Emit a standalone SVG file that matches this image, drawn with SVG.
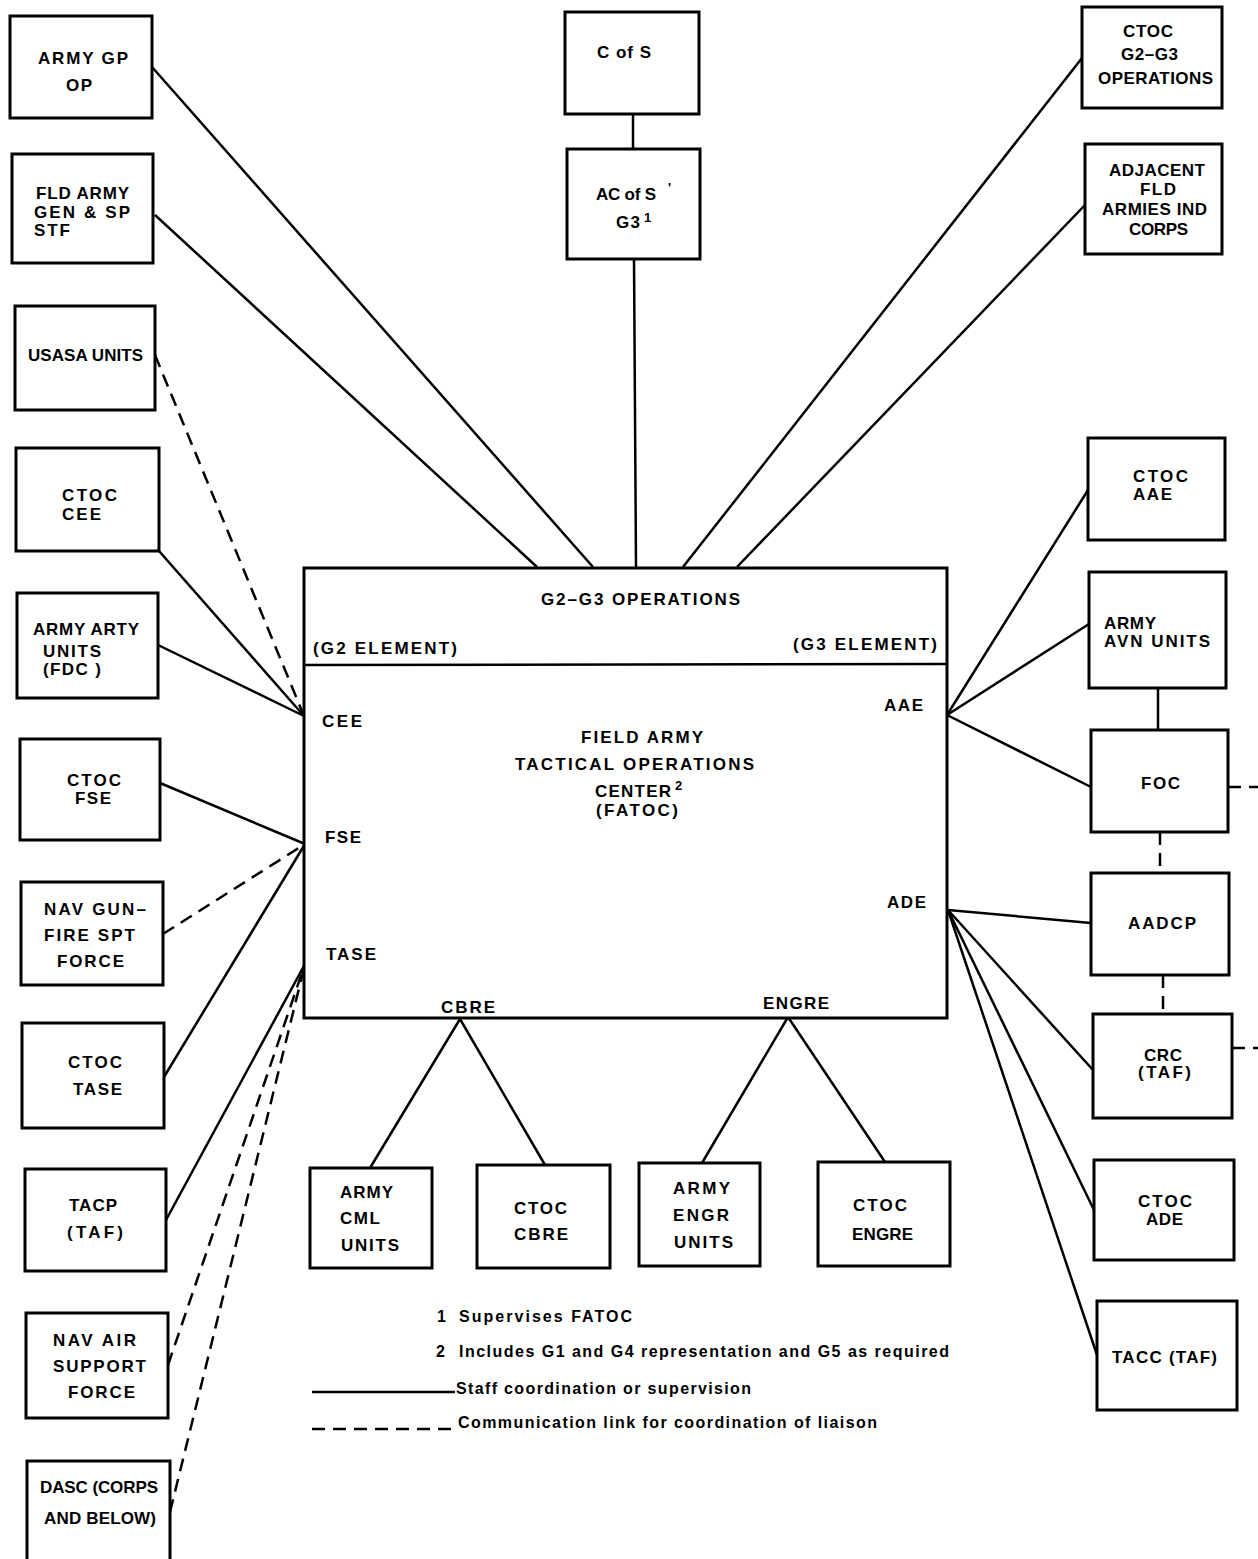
<svg xmlns="http://www.w3.org/2000/svg" width="1258" height="1559" viewBox="0 0 1258 1559">
<style>
.b{fill:#fff;stroke:#000;stroke-width:3}
.s{stroke:#000;stroke-width:2.5;fill:none}
.d{stroke:#000;stroke-width:2.5;fill:none;stroke-dasharray:13 8}
text{font-family:"Liberation Sans",Arial,sans-serif;font-weight:bold;font-size:17px;fill:#000}
.l{font-size:16px}
.sup{font-size:13px}
</style>
<rect width="1258" height="1559" fill="#fff"/>
<g id="connectors">
<line class="s" x1="152" y1="67" x2="593" y2="567"/>
<line class="s" x1="155" y1="215" x2="537" y2="567"/>
<line class="s" x1="633" y1="114" x2="633" y2="149"/>
<line class="s" x1="634" y1="259" x2="636" y2="567"/>
<line class="s" x1="1082" y1="58" x2="683" y2="567"/>
<line class="s" x1="1085" y1="205" x2="737" y2="567"/>
<line class="d" x1="155" y1="355" x2="304" y2="716"/>
<line class="s" x1="159" y1="551" x2="304" y2="716"/>
<line class="s" x1="158" y1="645" x2="304" y2="716"/>
<line class="s" x1="160" y1="783" x2="305" y2="844"/>
<line class="d" x1="163" y1="934" x2="305" y2="844"/>
<line class="s" x1="164" y1="1077" x2="305" y2="844"/>
<line class="s" x1="166" y1="1220" x2="305" y2="964"/>
<line class="d" x1="168" y1="1365" x2="305" y2="964"/>
<line class="d" x1="170" y1="1512" x2="305" y2="964"/>
<line class="s" x1="1088" y1="490" x2="947" y2="715"/>
<line class="s" x1="1089" y1="624" x2="947" y2="715"/>
<line class="s" x1="1091" y1="787" x2="947" y2="715"/>
<line class="s" x1="1158" y1="688" x2="1158" y2="730"/>
<line class="d" x1="1228" y1="787" x2="1258" y2="787"/>
<line class="d" x1="1160" y1="832" x2="1160" y2="873"/>
<line class="d" x1="1163" y1="975" x2="1163" y2="1014"/>
<line class="d" x1="1232" y1="1048" x2="1258" y2="1048" stroke-dasharray="20 4"/>
<line class="s" x1="1091" y1="923" x2="948" y2="910"/>
<line class="s" x1="1093" y1="1070" x2="948" y2="910"/>
<line class="s" x1="1094" y1="1210" x2="948" y2="910"/>
<line class="s" x1="1097" y1="1355" x2="948" y2="910"/>
<line class="s" x1="460" y1="1019" x2="370" y2="1168"/>
<line class="s" x1="460" y1="1019" x2="545" y2="1165"/>
<line class="s" x1="788" y1="1017" x2="702" y2="1163"/>
<line class="s" x1="788" y1="1017" x2="885" y2="1162"/>
</g>
<g id="fatoc">
<rect class="b" x="304" y="568" width="643" height="450"/>
<line class="s" x1="304" y1="665" x2="947" y2="664" stroke-width="3"/>
<text x="541" y="605" textLength="199">G2–G3 OPERATIONS</text>
<text x="313" y="654" textLength="144">(G2 ELEMENT)</text>
<text x="793" y="650" textLength="144">(G3 ELEMENT)</text>
<text x="322" y="727" textLength="40">CEE</text>
<text x="884" y="711" textLength="39">AAE</text>
<text x="581" y="743" textLength="122">FIELD ARMY</text>
<text x="515" y="770" textLength="239">TACTICAL OPERATIONS</text>
<text x="595" y="797" textLength="76">CENTER</text>
<text x="675" y="790" class="sup">2</text>
<text x="596" y="816" textLength="82">(FATOC)</text>
<text x="325" y="843" textLength="36">FSE</text>
<text x="887" y="908" textLength="39">ADE</text>
<text x="326" y="960" textLength="50">TASE</text>
<text x="441" y="1013" textLength="54">CBRE</text>
<text x="763" y="1009" textLength="66">ENGRE</text>
</g>
<g id="army-gp-op"><rect class="b" x="10" y="16" width="142" height="102"/>
<text x="38" y="64" textLength="90">ARMY GP</text><text x="66" y="91" textLength="26">OP</text></g>
<g id="fld-army"><rect class="b" x="12" y="154" width="141" height="109"/>
<text x="36" y="199" textLength="93">FLD ARMY</text><text x="34" y="218" textLength="96">GEN &amp; SP</text><text x="34" y="236" textLength="36">STF</text></g>
<g id="usasa"><rect class="b" x="15" y="306" width="140" height="104"/>
<text x="28" y="361" textLength="115">USASA UNITS</text></g>
<g id="ctoc-cee"><rect class="b" x="16" y="448" width="143" height="103"/>
<text x="62" y="501" textLength="55">CTOC</text><text x="62" y="520" textLength="39">CEE</text></g>
<g id="army-arty"><rect class="b" x="17" y="593" width="141" height="105"/>
<text x="33" y="635" textLength="106">ARMY ARTY</text><text x="43" y="657" textLength="58">UNITS</text><text x="43" y="675" textLength="58">(FDC )</text></g>
<g id="ctoc-fse"><rect class="b" x="20" y="739" width="140" height="101"/>
<text x="67" y="786" textLength="54">CTOC</text><text x="75" y="804" textLength="36">FSE</text></g>
<g id="nav-gun"><rect class="b" x="21" y="882" width="142" height="103"/>
<text x="44" y="915" textLength="102">NAV GUN–</text><text x="44" y="941" textLength="91">FIRE SPT</text><text x="57" y="967" textLength="67">FORCE</text></g>
<g id="ctoc-tase"><rect class="b" x="22" y="1023" width="142" height="105"/>
<text x="68" y="1068" textLength="54">CTOC</text><text x="73" y="1095" textLength="49">TASE</text></g>
<g id="tacp"><rect class="b" x="25" y="1169" width="141" height="102"/>
<text x="69" y="1211" textLength="48">TACP</text><text x="67" y="1238" textLength="56">(TAF)</text></g>
<g id="nav-air"><rect class="b" x="26" y="1313" width="142" height="105"/>
<text x="53" y="1346" textLength="83">NAV AIR</text><text x="53" y="1372" textLength="93">SUPPORT</text><text x="68" y="1398" textLength="67">FORCE</text></g>
<g id="dasc"><path class="b" d="M27,1559 V1461 H170 V1559"/>
<text x="40" y="1493" textLength="118">DASC (CORPS</text><text x="44" y="1524" textLength="112">AND BELOW)</text></g>
<g id="c-of-s"><rect class="b" x="565" y="12" width="134" height="102"/>
<text x="597" y="58" textLength="54">C of S</text></g>
<g id="ac-of-s"><rect class="b" x="567" y="149" width="133" height="110"/>
<text x="596" y="200" textLength="60">AC of S</text><text x="668" y="192" class="sup">'</text><text x="616" y="228" textLength="24">G3</text><text x="644" y="222" class="sup">1</text></g>
<g id="ctoc-g2g3"><rect class="b" x="1082" y="7" width="140" height="101"/>
<text x="1123" y="37" textLength="50">CTOC</text><text x="1121" y="60" textLength="57">G2–G3</text><text x="1098" y="84" textLength="115">OPERATIONS</text></g>
<g id="adjacent"><rect class="b" x="1085" y="144" width="137" height="110"/>
<text x="1109" y="176" textLength="96">ADJACENT</text><text x="1140" y="195" textLength="36">FLD</text><text x="1102" y="215" textLength="105">ARMIES IND</text><text x="1129" y="235" textLength="59">CORPS</text></g>
<g id="ctoc-aae"><rect class="b" x="1088" y="438" width="137" height="102"/>
<text x="1133" y="482" textLength="55">CTOC</text><text x="1133" y="500" textLength="39">AAE</text></g>
<g id="army-avn"><rect class="b" x="1089" y="572" width="137" height="116"/>
<text x="1104" y="629" textLength="52">ARMY</text><text x="1104" y="647" textLength="106">AVN UNITS</text></g>
<g id="foc"><rect class="b" x="1091" y="730" width="137" height="102"/>
<text x="1141" y="789" textLength="39">FOC</text></g>
<g id="aadcp"><rect class="b" x="1091" y="873" width="138" height="102"/>
<text x="1128" y="929" textLength="68">AADCP</text></g>
<g id="crc"><rect class="b" x="1093" y="1014" width="139" height="104"/>
<text x="1144" y="1061" textLength="38">CRC</text><text x="1138" y="1078" textLength="53">(TAF)</text></g>
<g id="ctoc-ade"><rect class="b" x="1094" y="1160" width="140" height="100"/>
<text x="1138" y="1207" textLength="54">CTOC</text><text x="1146" y="1225" textLength="37">ADE</text></g>
<g id="tacc"><rect class="b" x="1097" y="1301" width="140" height="109"/>
<text x="1112" y="1363" textLength="105">TACC (TAF)</text></g>
<g id="army-cml"><rect class="b" x="310" y="1168" width="122" height="100"/>
<text x="340" y="1198" textLength="53">ARMY</text><text x="340" y="1224" textLength="40">CML</text><text x="341" y="1251" textLength="58">UNITS</text></g>
<g id="ctoc-cbre"><rect class="b" x="477" y="1165" width="133" height="103"/>
<text x="514" y="1214" textLength="53">CTOC</text><text x="514" y="1240" textLength="54">CBRE</text></g>
<g id="army-engr"><rect class="b" x="639" y="1163" width="121" height="103"/>
<text x="673" y="1194" textLength="57">ARMY</text><text x="673" y="1221" textLength="56">ENGR</text><text x="674" y="1248" textLength="59">UNITS</text></g>
<g id="ctoc-engre"><rect class="b" x="818" y="1162" width="132" height="104"/>
<text x="853" y="1211" textLength="54">CTOC</text><text x="852" y="1240" textLength="61">ENGRE</text></g>
<g id="legend">
<text class="l" x="437" y="1322">1</text>
<text class="l" x="459" y="1322" textLength="173">Supervises FATOC</text>
<text class="l" x="436" y="1357">2</text>
<text class="l" x="459" y="1357" textLength="490">Includes G1 and G4 representation and G5 as required</text>
<line class="s" x1="312" y1="1392" x2="455" y2="1392"/>
<text class="l" x="456" y="1394" textLength="295">Staff coordination or supervision</text>
<line class="d" x1="312" y1="1429" x2="455" y2="1429" stroke-dasharray="16 8"/>
<text class="l" x="458" y="1428" textLength="419">Communication link for coordination of liaison</text>
</g>
</svg>
